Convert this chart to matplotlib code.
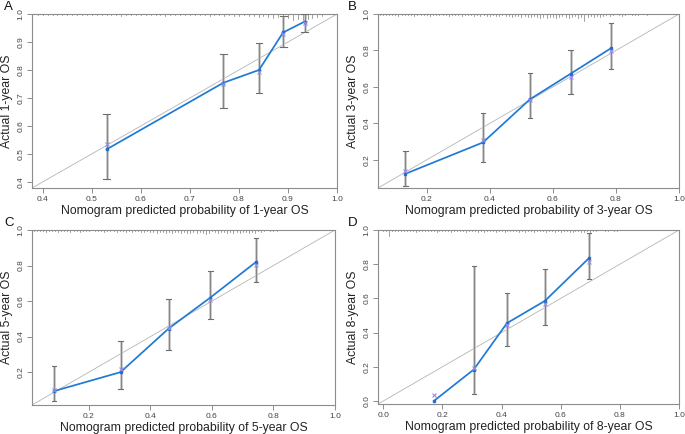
import numpy as np
import matplotlib
matplotlib.use("Agg")
import matplotlib.pyplot as plt
import matplotlib.transforms as mtransforms

plt.rcParams['font.family'] = ['Liberation Sans', 'DejaVu Sans']

# panel data: predicted, observed (blue), bias-corrected (x), CI low/high
years = ['1', '3', '5', '8']
letters = ['A', 'B', 'C', 'D']

pred_1 = [0.530, 0.768, 0.841, 0.890, 0.934]
obs_1 = [0.516, 0.754, 0.800, 0.934, 0.973]
cor_1 = [0.537, 0.749, 0.794, 0.927, 0.967]
lo_1 = [0.409, 0.665, 0.716, 0.881, 0.937]
hi_1 = [0.644, 0.856, 0.895, 0.993, 1.000]

pred_3 = [0.132, 0.378, 0.528, 0.656, 0.785]
obs_3 = [0.123, 0.295, 0.533, 0.672, 0.813]
cor_3 = [0.140, 0.310, 0.530, 0.654, 0.798]
lo_3 = [0.056, 0.190, 0.429, 0.562, 0.700]
hi_3 = [0.250, 0.456, 0.676, 0.800, 0.950]

pred_5 = [0.086, 0.303, 0.459, 0.595, 0.744]
obs_5 = [0.093, 0.200, 0.445, 0.620, 0.821]
cor_5 = [0.102, 0.217, 0.447, 0.605, 0.802]
lo_5 = [0.036, 0.104, 0.322, 0.501, 0.705]
hi_5 = [0.232, 0.373, 0.610, 0.768, 0.953]

pred_8 = [0.171, 0.306, 0.418, 0.547, 0.697]
obs_8 = [0.000, 0.184, 0.455, 0.586, 0.838]
cor_8 = [0.033, 0.193, 0.445, 0.567, 0.812]
lo_8 = [0.000, 0.043, 0.323, 0.445, 0.712]
hi_8 = [0.000, 0.787, 0.634, 0.774, 0.983]

limits = [(0.378, 1.0), (0.045, 1.0), (0.015, 1.0), (-0.018, 1.0)]
ticks = [[0.4, 0.5, 0.6, 0.7, 0.8, 0.9, 1.0],
         [0.2, 0.4, 0.6, 0.8, 1.0],
         [0.2, 0.4, 0.6, 0.8, 1.0],
         [0.0, 0.2, 0.4, 0.6, 0.8, 1.0]]

# rug of predicted values (start, step, tick lengths in px)
rug_1 = (0.39, 0.01, [1, 1, 1, 1, 1, 1, 1, 1, 1, 1, 1, 1, 1, 1, 1, 1, 1, 2, 1, 1,
                      1, 1, 1, 1, 1, 1, 2, 1, 1, 1, 1, 1, 1, 1, 1, 2, 1, 1, 2, 1,
                      2, 2, 1, 2, 2, 3, 2, 3, 4, 3, 5, 4, 6, 5, 6, 5, 4, 3, 2])
rug_3 = (0.05, 0.01, [1, 1, 1, 1, 1, 1, 2, 1, 1, 1, 1, 2, 1, 1, 1, 1, 2, 1, 1, 1,
                      1, 1, 2, 1, 1, 1, 2, 1, 1, 1, 2, 1, 2, 1, 2, 2, 1, 2, 2, 1,
                      2, 2, 3, 2, 2, 3, 2, 3, 3, 2, 3, 4, 3, 4, 3, 3, 4, 3, 2, 3,
                      4, 3, 2, 4, 3, 7, 3, 2, 3, 2, 3, 2, 1, 2, 1, 0, 1, 2, 1, 0,
                      1, 1, 1, 0, 0, 1])
rug_5 = (0.02, 0.01, [1, 1, 1, 1, 2, 1, 1, 1, 2, 1, 1, 1, 2, 1, 1, 2, 1, 1, 1, 0,
                      1, 1, 1, 2, 1, 1, 1, 2, 1, 1, 2, 1, 2, 1, 1, 2, 2, 1, 2, 2,
                      3, 2, 2, 3, 2, 3, 2, 2, 3, 2, 3, 3, 2, 3, 2, 3, 4, 3, 1, 2,
                      3, 2, 2, 3, 2, 3, 2, 3, 2, 2, 3, 2, 3, 1, 2, 1, 0, 1, 1, 1])
rug_8 = (0.00, 0.01, [1, 1, 6, 1, 1, 1, 1, 1, 1, 1, 1, 2, 1, 1, 1, 1, 1, 1, 2, 1,
                      1, 1, 1, 2, 1, 1, 1, 1, 2, 1, 1, 1, 2, 1, 2, 1, 1, 1, 2, 1,
                      1, 2, 1, 1, 1, 1, 2, 1, 2, 1, 1, 2, 1, 1, 1, 2, 1, 1, 2, 1,
                      2, 1, 1, 2, 2, 1, 1, 2, 2, 1, 2, 1, 1, 0, 0, 1, 1, 0, 1, 1])

panels = [(pred_1, obs_1, cor_1, lo_1, hi_1, rug_1),
          (pred_3, obs_3, cor_3, lo_3, hi_3, rug_3),
          (pred_5, obs_5, cor_5, lo_5, hi_5, rug_5),
          (pred_8, obs_8, cor_8, lo_8, hi_8, rug_8)]

boxes = [[0.0467, 0.5668, 0.4453, 0.4009],
         [0.5518, 0.5668, 0.4394, 0.4009],
         [0.0467, 0.0668, 0.4423, 0.4032],
         [0.5518, 0.0690, 0.4394, 0.4010]]
letter_pos = [(0.006, 0.997), (0.508, 0.997), (0.006, 0.499), (0.508, 0.499)]

frame = '#8c8c8c'
fig = plt.figure(figsize=(6.85, 4.34), dpi=100)

for i in range(4):
    pred, obs, cor, lo, hi, rug = panels[i]
    ax = fig.add_axes(boxes[i])
    lim = limits[i]
    ax.set_xlim(lim)
    ax.set_ylim(lim)
    ax.plot([lim[0], 1.0], [lim[0], 1.0], color='#b4b4b4', lw=0.6, zorder=1)

    # rug along the top
    trans = mtransforms.blended_transform_factory(ax.transData, ax.transAxes)
    start, step, lens = rug
    ax_h = boxes[i][3] * 434
    for k, L in enumerate(lens):
        if L > 0:
            xx = start + k * step
            ax.plot([xx, xx], [1.0, 1.0 - L / ax_h], color='#7a7a7a', lw=0.5,
                     transform=trans, clip_on=False, zorder=2)

    # error bars
    for p, l, h in zip(pred, lo, hi):
        if h - l > 0.005:
            ax.plot([p, p], [l, h], color='#c8c8c8', lw=2.0, zorder=2, solid_capstyle='butt')
            ax.plot([p, p], [l, h], color='#7a7a7a', lw=0.6, zorder=3)
            for yy in (l, h):
                ax.plot([p - 0.007, p + 0.007], [yy, yy], color='#6e6e6e', lw=0.8, zorder=3)

    ax.plot(pred, obs, color='#1f7ad6', lw=1.25, zorder=4)
    ax.plot(pred, obs, 's', color='#1f6fd0', ms=1.7, zorder=5)
    ax.plot(pred, cor, 'x', color='#9a8ee8', ms=2.8, mew=0.8, zorder=5)

    ax.set_xticks(ticks[i])
    ax.set_yticks(ticks[i])
    ax.set_xticklabels(['%.1f' % t for t in ticks[i]])
    ax.set_yticklabels(['%.1f' % t for t in ticks[i]], rotation=90, va='center')
    ax.tick_params(direction='out', length=3.5, width=0.7, color=frame,
                   labelsize=6, labelcolor='#444444', pad=2)
    for s in ax.spines.values():
        s.set_color(frame)
        s.set_linewidth(0.8)
    ax.set_xlabel('Nomogram predicted probability of %s-year OS' % years[i],
                  fontsize=8.8, color='#222222', labelpad=2)
    ax.set_ylabel('Actual %s-year OS' % years[i], fontsize=8.8, color='#222222', labelpad=3)
    fig.text(letter_pos[i][0], letter_pos[i][1], letters[i], fontsize=9.5,
             ha='left', va='top', color='#111111')

fig.savefig('out.png', dpi=100)
